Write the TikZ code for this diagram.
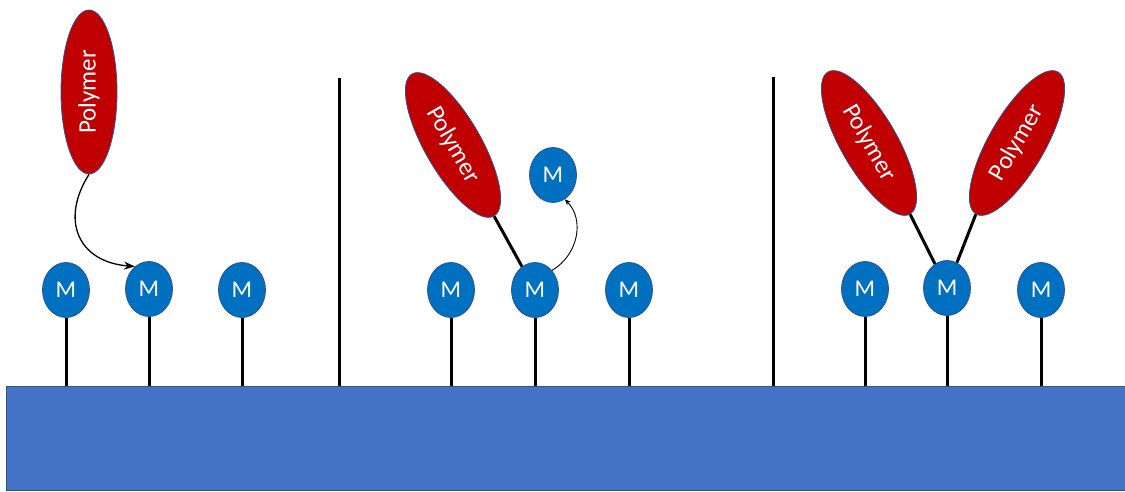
\documentclass[tikz,border=0pt]{standalone}
\usepackage{fontspec}
\setmainfont{Carlito}
\usetikzlibrary{shapes.geometric,arrows.meta}
\definecolor{polred}{HTML}{C00000}
\definecolor{mblue}{HTML}{0070C0}
\definecolor{edgeblue}{HTML}{2F528F}
\definecolor{subblue}{HTML}{4472C4}
\begin{document}
\begin{tikzpicture}[x=1pt,y=1pt,
 metal/.style={ellipse, draw=edgeblue, line width=0.8pt, fill=mblue, minimum width=47pt, minimum height=55pt, inner sep=0pt, text=white, font=\fontsize{24}{24}\selectfont},
 polymer/.style={ellipse, draw=edgeblue, line width=0.8pt, fill=polred, minimum width=164pt, minimum height=56pt, inner sep=0pt, text=white, font=\fontsize{25}{25}\selectfont},
 substrate/.style={draw=edgeblue, line width=0.6pt, fill=subblue, minimum width=1119pt, minimum height=104pt, inner sep=0pt, anchor=south west},
 stem/.style={line width=3pt},
 divider/.style={line width=3pt},
 bond/.style={line width=3pt},
 move/.style={line width=1.3pt, -{Stealth[length=11pt,width=8pt]}},
 hop/.style={line width=0.9pt, -{Stealth[length=6pt,width=5pt]}}]
\useasboundingbox (0,0) rectangle (1125,491);
% substrate
\node[substrate] (sub) at (6,0) {};
% dividers
\coordinate (d1) at (339,413);
\coordinate (d2) at (773,414);
\draw[divider] (d1) -- (d1 |- sub.north);
\draw[divider] (d2) -- (d2 |- sub.north);
% panel 1
\node[metal] (m1) at (66,201) {M};
\node[metal] (m2) at (149,202) {M};
\node[metal] (m3) at (242,201) {M};
\node[polymer, rotate=90] (p1) at (89,399) {Polymer};
% panel 2
\node[metal] (m4) at (451,201) {M};
\node[metal] (m5) at (535,201) {M};
\node[metal] (m6) at (629,201) {M};
\node[metal] (mf) at (553,316) {M};
\node[polymer, rotate=-60] (p2) at (453,346) {Polymer};
% panel 3
\node[metal] (m7) at (865,202) {M};
\node[metal] (m8) at (947,203) {M};
\node[metal] (m9) at (1041,201) {M};
\node[polymer, rotate=-60] (p3) at (869,348) {Polymer};
\node[polymer, rotate=60] (p4) at (1017,348) {Polymer};
% stems
\foreach \m in {m1,m2,m3,m4,m5,m6,m7,m8,m9}
  \draw[stem] (\m.south) -- (\m.south |- sub.north);
% bonds
\draw[bond] (p2.east) -- (m5);
\draw[bond] (p3.east) -- (m8);
\draw[bond] (p4.west) -- (m8);
% arrows
\draw[move] (p1.west) .. controls (60,271) and (78,229) .. (m2.122);
\draw[hop] (m5.49) .. controls (578,236) and (585,271) .. (mf.-64);
\end{tikzpicture}
\end{document}
